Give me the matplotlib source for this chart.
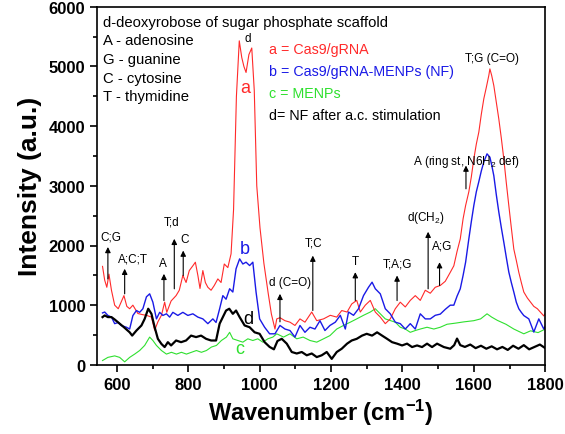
import matplotlib
matplotlib.use("Agg")
import matplotlib.pyplot as plt
from matplotlib.ticker import MultipleLocator

plt.rcParams["font.family"] = ["Liberation Sans", "DejaVu Sans"]
plt.rcParams["mathtext.default"] = "regular"

# spectra (wavenumber, intensity)
red_x = [560, 566, 572, 578, 585, 594, 604, 612, 620, 628, 636, 645, 659, 673, 683, 697,
         706, 715, 725, 734, 740, 752, 766, 775, 785, 794, 803, 813, 820, 827, 833, 841,
         848, 855, 864, 873, 883, 892, 901, 911, 920, 927, 935, 943, 950, 956, 962, 970,
         978, 985, 992, 1001, 1012, 1024, 1033, 1043, 1048, 1057, 1071, 1085, 1099, 1113,
         1127, 1146, 1160, 1179, 1198, 1216, 1230, 1245, 1258, 1272, 1282, 1296, 1310,
         1324, 1338, 1352, 1366, 1380, 1394, 1408, 1422, 1436, 1450, 1464, 1478, 1492,
         1506, 1520, 1534, 1544, 1553, 1562, 1570, 1577, 1586, 1593, 1600, 1607, 1614,
         1621, 1628, 1635, 1642, 1645, 1650, 1656, 1663, 1670, 1677, 1684, 1691, 1698,
         1705, 1712, 1719, 1726, 1733, 1740, 1750, 1759, 1768, 1778, 1787, 1796, 1800]
red_y = [1650, 1420, 1300, 1520, 1250, 1000, 940, 1050, 1160, 980, 940, 1000, 860, 840, 830, 800,
         580, 720, 830, 1050, 880, 1070, 1160, 1250, 1500, 1380, 1580, 1660, 1720, 1500, 1280, 1580,
         1380, 1300, 1250, 1330, 1440, 1380, 1690, 1630, 1860, 2600, 4500, 5430, 5150, 5000, 4900, 5200,
         5310, 4600, 3000, 2300, 1700, 1200, 850, 600, 770, 790, 740, 715, 660, 770,
         715, 885, 740, 770, 830, 800, 910, 885, 1020, 1080, 885, 1000, 1080,
         885, 800, 690, 770, 940, 1050, 970, 1080, 1160, 1080, 1250, 1200, 1300,
         1330, 1400, 1550, 1660, 1900, 2110, 2450, 2670, 2900, 3150, 3450, 3700, 3900,
         4200, 4460, 4650, 4850, 4960, 4850, 4680, 4400, 4120, 3800, 3450, 3050, 2670,
         2300, 1940, 1750, 1550, 1380, 1220, 1120, 1050, 980, 940, 880, 820, 860]

blue_x = [560, 566, 575, 585, 594, 604, 612, 627, 636, 645, 655, 664, 673, 683, 692, 701,
          711, 720, 729, 739, 748, 757, 771, 785, 799, 813, 827, 841, 855, 869, 878, 888,
          897, 906, 916, 925, 934, 944, 953, 962, 972, 981, 990, 1000, 1014, 1028, 1043,
          1057, 1071, 1085, 1099, 1113, 1127, 1141, 1155, 1169, 1183, 1197, 1212, 1226,
          1240, 1249, 1263, 1277, 1291, 1305, 1315, 1324, 1338, 1352, 1366, 1380, 1394,
          1408, 1422, 1436, 1450, 1464, 1478, 1492, 1506, 1520, 1534, 1544, 1553, 1562,
          1570, 1577, 1586, 1593, 1600, 1607, 1614, 1621, 1628, 1637, 1645, 1650, 1656,
          1663, 1670, 1677, 1684, 1691, 1698, 1705, 1712, 1719, 1726, 1733, 1740, 1754,
          1768, 1782, 1796, 1800]
blue_y = [870, 885, 828, 800, 690, 710, 660, 630, 600, 826, 910, 880, 940, 1140, 1190, 1050,
          770, 880, 828, 855, 800, 880, 828, 880, 828, 855, 800, 770, 690, 770, 710, 940,
          1160, 1100, 1275, 1220, 1610, 1776, 1690, 1720, 1664, 1720, 1220, 770, 630, 520, 520,
          660, 600, 575, 465, 660, 545, 630, 600, 740, 575, 660, 715, 830,
          600, 885, 830, 940, 1160, 1300, 1385, 1275, 1190, 940, 855, 715, 690,
          600, 690, 600, 855, 770, 770, 830, 850, 930, 1000, 1000, 1150, 1274,
          1500, 1720, 2110, 2400, 2670, 2900, 3070, 3250, 3400, 3536, 3480, 3350, 3170,
          2850, 2560, 2300, 2055, 1800, 1555, 1380, 1220, 1050, 940, 880, 826, 770,
          550, 770, 600, 650]

green_x = [560, 575, 594, 608, 622, 636, 650, 664, 678, 692, 701, 711, 725, 739, 753, 767,
           781, 795, 809, 823, 837, 851, 865, 879, 893, 907, 916, 925, 939, 953, 967, 981,
           995, 1009, 1023, 1037, 1048, 1067, 1085, 1104, 1122, 1141, 1160, 1179, 1197,
           1216, 1235, 1254, 1272, 1291, 1310, 1324, 1338, 1352, 1366, 1380, 1394, 1408,
           1422, 1436, 1450, 1469, 1488, 1506, 1525, 1550, 1572, 1600, 1619, 1637, 1650,
           1666, 1690, 1712, 1740, 1759, 1780, 1800]
green_y = [72, 125, 150, 125, 50, 125, 180, 240, 325, 465, 408, 325, 240, 180, 210, 180,
           210, 180, 210, 240, 210, 240, 298, 325, 408, 465, 545, 436, 408, 380, 436, 408,
           436, 380, 436, 465, 520, 465, 520, 436, 465, 408, 380, 436, 490,
           600, 660, 715, 770, 830, 885, 940, 855, 770, 742, 715, 630, 600,
           545, 575, 600, 630, 600, 630, 680, 700, 720, 740, 770, 855, 800,
           745, 680, 600, 520, 570, 540, 600]

black_x = [560, 566, 575, 585, 594, 604, 620, 636, 643, 655, 669, 678, 688, 697, 706, 715,
           725, 734, 743, 752, 766, 780, 794, 808, 822, 836, 850, 864, 878, 888, 897, 906,
           915, 925, 934, 944, 958, 972, 986, 1000, 1014, 1028, 1040, 1050, 1062, 1076,
           1090, 1104, 1118, 1132, 1146, 1160, 1174, 1188, 1202, 1216, 1230, 1245, 1258,
           1272, 1287, 1300, 1315, 1329, 1343, 1357, 1371, 1385, 1399, 1413, 1427, 1441,
           1455, 1469, 1483, 1497, 1516, 1534, 1545, 1553, 1562, 1575, 1590, 1605, 1620,
           1635, 1650, 1665, 1680, 1695, 1710, 1725, 1740, 1755, 1770, 1785, 1800]
black_y = [800, 828, 800, 800, 760, 710, 630, 545, 490, 575, 660, 770, 940, 855, 630, 436,
           350, 298, 380, 325, 408, 380, 408, 490, 465, 490, 436, 408, 408, 690, 800, 910,
           940, 855, 910, 800, 660, 630, 545, 520, 380, 300, 260, 400, 436, 355,
           215, 190, 215, 160, 190, 130, 160, 215, 100, 215, 270, 355, 408,
           436, 490, 520, 490, 545, 490, 436, 380, 355, 325, 355, 298, 325,
           298, 355, 298, 355, 298, 270, 330, 440, 330, 300, 340, 280, 320,
           270, 310, 260, 300, 250, 320, 270, 330, 260, 300, 340, 280]

# band assignments: label, wavenumber, arrow base, arrow tip, text x, text y
bands = [
    ("C;G", 575, 1440, 1975, 582, 2150),
    ("A;C;T", 622, 1190, 1610, 645, 1780),
    ("A", 732, 1077, 1525, 729, 1700),
    ("T;d", 761, 1274, 2112, 753, 2400),
    ("C", 786, 1497, 1915, 791, 2110),
    ("d (C=O)", 1057, 720, 1190, 1085, 1390),
    ("T;C", 1149, 910, 1830, 1151, 2050),
    ("T", 1268, 1077, 1553, 1268, 1740),
    ("T;A;G", 1385, 1077, 1497, 1385, 1700),
    (r"d(CH$_2$)", 1472, 1274, 2230, 1466, 2470),
    ("A;G", 1504, 1330, 1720, 1511, 2000),
    (r"A (ring st, N6H$_2$ def)", 1578, 2950, 3340, 1579, 3420),
]

base_notes = ["d-deoxyrobose of sugar phosphate scaffold", "A - adenosine",
              "G - guanine", "C - cytosine", "T - thymidine"]
series_notes = ["a = Cas9/gRNA", "b = Cas9/gRNA-MENPs (NF)", "c = MENPs",
                "d= NF after a.c. stimulation"]
series_colors = ["#ff2a2a", "#1a1ae6", "#2fe02f", "black"]

fig = plt.figure(figsize=(5.65, 4.35), dpi=100)
ax = fig.add_axes([0.172, 0.159, 0.793, 0.823])

ax.plot(green_x, green_y, color=series_colors[2], lw=0.8)
ax.plot(red_x, red_y, color=series_colors[0], lw=0.8)
ax.plot(blue_x, blue_y, color=series_colors[1], lw=1.0)
ax.plot(black_x, black_y, color=series_colors[3], lw=1.6)

for label, x, y0, y1, tx, ty in bands:
    ax.annotate("", xy=(x, y1), xytext=(x, y0),
                arrowprops=dict(arrowstyle="-|>", color="black", lw=0.8,
                                mutation_scale=8, shrinkA=0, shrinkB=0))
    ax.text(tx, ty, label, fontsize=8.5, ha="center", va="center")

ax.text(1652, 5140, "T;G (C=O)", fontsize=8.5, ha="center", va="center")
ax.text(966, 5480, "d", fontsize=8.5, ha="center", va="center")

# curve letters
ax.text(959, 4650, "a", color=series_colors[0], fontsize=13, ha="center", va="center")
ax.text(959, 1944, "b", color=series_colors[1], fontsize=13, ha="center", va="center")
ax.text(968, 770, "d", color="black", fontsize=13, ha="center", va="center")
ax.text(945, 268, "c", color=series_colors[2], fontsize=13, ha="center", va="center")

for i, s in enumerate(base_notes):
    ax.text(0.013, 0.958 - i * 0.052, s, transform=ax.transAxes, fontsize=10.7,
            ha="left", va="center")
for i, s in enumerate(series_notes):
    ax.text(0.384, 0.882 - i * 0.0615, s, transform=ax.transAxes, fontsize=10.3,
            color=series_colors[i], ha="left", va="center")

ax.set_xlim(545, 1800)
ax.set_ylim(0, 6000)
ax.xaxis.set_major_locator(MultipleLocator(200))
ax.xaxis.set_minor_locator(MultipleLocator(100))
ax.yaxis.set_major_locator(MultipleLocator(1000))
ax.yaxis.set_minor_locator(MultipleLocator(500))
ax.tick_params(which="both", direction="out", top=False, right=False, width=1.2)
ax.tick_params(which="major", length=5, labelsize=12)
ax.tick_params(which="minor", length=3)
for lab in ax.get_xticklabels() + ax.get_yticklabels():
    lab.set_fontweight("bold")
for sp in ax.spines.values():
    sp.set_linewidth(1.2)

ax.set_xlabel(r"Wavenumber (cm$^{-1}$)", fontsize=17, fontweight="bold", labelpad=4)
ax.set_ylabel("Intensity (a.u.)", fontsize=19, fontweight="bold", labelpad=5)

fig.savefig("out.png", dpi=100)
